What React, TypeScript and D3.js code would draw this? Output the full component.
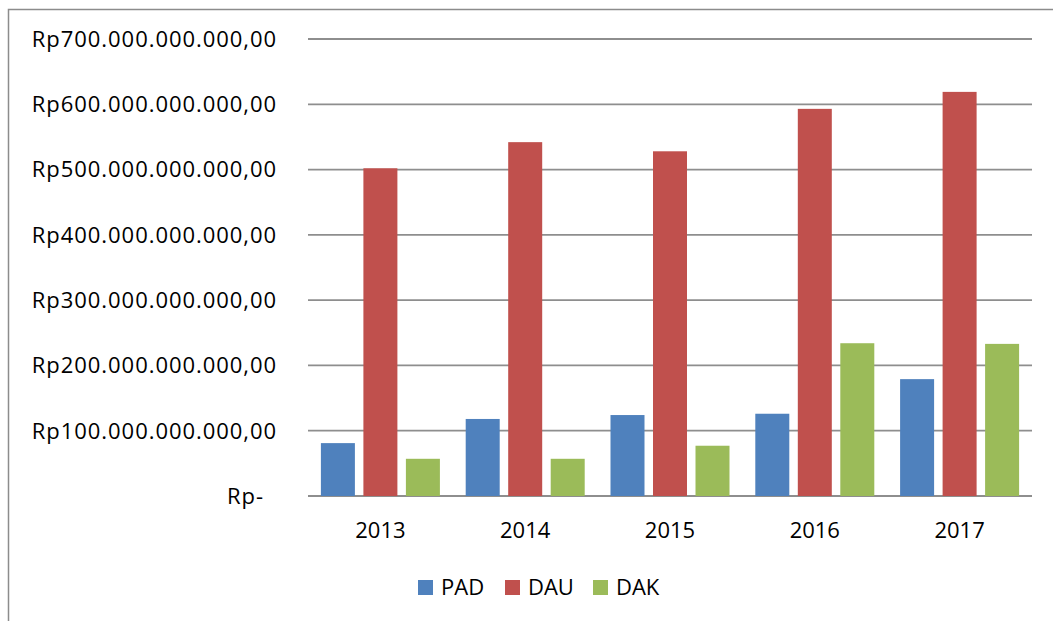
import React, { useEffect, useRef } from 'react';
import * as d3 from 'd3';

// values in billions of Rupiah
const years = ['2013', '2014', '2015', '2016', '2017'];
const series = ['PAD', 'DAU', 'DAK'];
const padValues = [81, 118, 124, 126, 179];
const dauValues = [502, 542, 528, 593, 619];
const dakValues = [57, 57, 77, 234, 233];
const yTicks = [0, 100, 200, 300, 400, 500, 600, 700];
const colors = ['#4F81BD', '#C0504D', '#9BBB59'];

const W = 1053;
const H = 621;

function App() {
  const ref = useRef<SVGSVGElement>(null);

  useEffect(() => {
    const svg = d3.select(ref.current);
    svg.selectAll('*').remove();
    const font = '"Open Sans", sans-serif';
    const fs = '22px';
    const values = [padValues, dauValues, dakValues];

    // outer frame (runs off the right/bottom edge)
    svg.append('rect')
      .attr('x', 8.5).attr('y', 9.5)
      .attr('width', W + 20).attr('height', H + 20)
      .attr('fill', 'none').attr('stroke', '#8c8c8c').attr('stroke-width', 1.5);

    const left = 308, right = 1032, top = 39, bottom = 496;

    const x0 = d3.scaleBand().domain(years).range([left, right]);
    const groupPad = 12.9;
    const x1 = d3.scaleBand().domain(series)
      .range([groupPad, x0.bandwidth() - groupPad])
      .paddingInner(0.2).paddingOuter(0);
    const y = d3.scaleLinear().domain([0, 700]).range([bottom, top]);

    // gridlines
    svg.append('g').selectAll('line')
      .data(yTicks).enter().append('line')
      .attr('x1', left).attr('x2', right)
      .attr('y1', d => y(d)).attr('y2', d => y(d))
      .attr('stroke', '#8e8e8e').attr('stroke-width', 1.8);

    // y labels
    svg.append('g').selectAll('text')
      .data(yTicks).enter().append('text')
      .attr('x', d => (d === 0 ? 264 : 277))
      .attr('y', d => y(d))
      .attr('dy', '0.36em')
      .attr('text-anchor', 'end')
      .style('font-family', font).style('font-size', fs)
      .style('letter-spacing', '0.95px').attr('fill', '#000')
      .text(d => (d === 0 ? 'Rp-' : `Rp${d}.000.000.000,00`));

    // bars
    series.forEach((s, si) => {
      svg.append('g').selectAll('rect')
        .data(values[si]).enter().append('rect')
        .attr('x', (d, i) => (x0(years[i]) as number) + (x1(s) as number))
        .attr('y', d => y(d))
        .attr('width', x1.bandwidth())
        .attr('height', d => bottom - y(d))
        .attr('fill', colors[si]);
    });

    // x labels
    svg.append('g').selectAll('text')
      .data(years).enter().append('text')
      .attr('x', d => (x0(d) as number) + x0.bandwidth() / 2)
      .attr('y', 538)
      .attr('text-anchor', 'middle')
      .style('font-family', font).style('font-size', fs).attr('fill', '#000')
      .text(d => d);

    // legend
    const legendX = [418, 505, 593];
    const leg = svg.append('g');
    series.forEach((s, si) => {
      leg.append('rect')
        .attr('x', legendX[si]).attr('y', 580)
        .attr('width', 15).attr('height', 15)
        .attr('fill', colors[si]);
      leg.append('text')
        .attr('x', legendX[si] + 23).attr('y', 595)
        .style('font-family', font).style('font-size', fs).attr('fill', '#000')
        .text(s);
    });
  }, []);

  return (
    <svg ref={ref} width={W} height={H}
      style={{ position: 'fixed', left: 0, top: 0, background: '#fff' }} />
  );
}

export default App;
